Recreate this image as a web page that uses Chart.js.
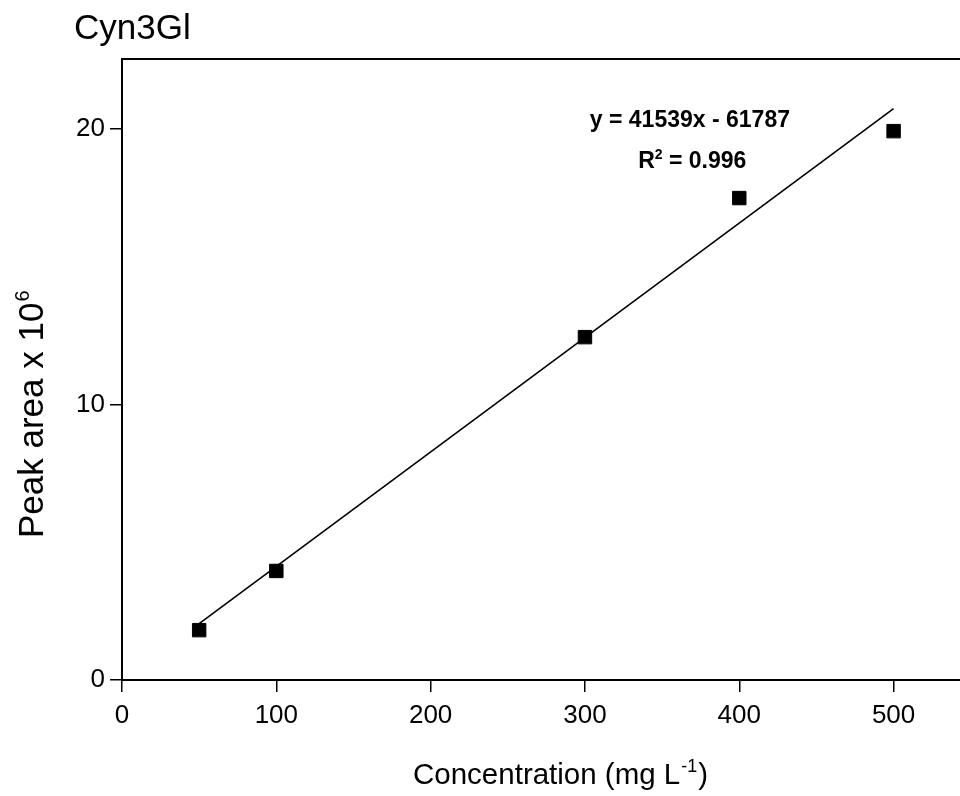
<!DOCTYPE html>
<html>
<head>
<meta charset="utf-8">
<script src="https://cdn.jsdelivr.net/npm/chart.js@4.4.1/dist/chart.umd.min.js"></script>
<style>
  body { margin: 0; background: #fff; }
  #wrap { width: 960px; height: 796px; position: relative; overflow: hidden; }
</style>
</head>
<body>
<div id="wrap"><canvas id="calib" width="972" height="796"></canvas></div>
<script>
// calibration points, peak area in units of 10^6
const concentration = [50, 100, 300, 400, 500];
const peakArea = [1.81, 3.96, 12.45, 17.5, 19.93];
// fitted line end points as drawn
const fitX = [50, 500];
const fitY = [2.05, 20.75];
const xTicks = [0, 100, 200, 300, 400, 500];
const yTicks = [0, 10, 20];

const chartTitle = 'Cyn3Gl';
const equationText = 'y = 41539x - 61787';
const r2Value = '0.996';

// extra texts: title, axis titles with superscripts, equation
const textPlugin = {
    id: 'texts',
    afterDraw(chart) {
        const ctx = chart.ctx;
        const xs = chart.scales.x, ys = chart.scales.y;
        const area = chart.chartArea;
        ctx.save();
        ctx.fillStyle = '#000';
        ctx.strokeStyle = '#000';

        // top frame line
        ctx.lineWidth = 2;
        ctx.beginPath();
        ctx.moveTo(area.left, area.top);
        ctx.lineTo(chart.width, area.top);
        ctx.stroke();

        // title
        ctx.font = '35px Arial, "Liberation Sans"';
        ctx.textAlign = 'left';
        ctx.textBaseline = 'alphabetic';
        ctx.fillText(chartTitle, 74, 39);

        // x axis title
        ctx.font = '29.5px Arial, "Liberation Sans"';
        let x = 413;
        ctx.fillText('Concentration (mg L', x, 784);
        x += ctx.measureText('Concentration (mg L').width;
        ctx.font = '18px Arial, "Liberation Sans"';
        ctx.fillText('-1', x + 1, 772);
        x += ctx.measureText('-1').width + 2;
        ctx.font = '29.5px Arial, "Liberation Sans"';
        ctx.fillText(')', x, 784);

        // y axis title
        ctx.save();
        ctx.translate(43, 538);
        ctx.rotate(-Math.PI / 2);
        ctx.font = '35px Arial, "Liberation Sans"';
        ctx.fillText('Peak area x 10', 0, 0);
        const w = ctx.measureText('Peak area x 10').width;
        ctx.font = '20px Arial, "Liberation Sans"';
        ctx.fillText('6', w + 1, -14);
        ctx.restore();

        // equation and R2
        ctx.font = 'bold 23px Arial, "Liberation Sans"';
        ctx.textAlign = 'center';
        ctx.fillText(equationText, xs.getPixelForValue(368), ys.getPixelForValue(20.07));
        ctx.textAlign = 'left';
        const rest = ' = ' + r2Value;
        const wR = ctx.measureText('R').width;
        const wRest = ctx.measureText(rest).width;
        ctx.font = 'bold 14px Arial, "Liberation Sans"';
        const w2 = ctx.measureText('2').width;
        const total = wR + w2 + wRest;
        let rx = xs.getPixelForValue(369.5) - total / 2;
        const ry = ys.getPixelForValue(18.58);
        ctx.font = 'bold 23px Arial, "Liberation Sans"';
        ctx.fillText('R', rx, ry);
        rx += wR;
        ctx.font = 'bold 14px Arial, "Liberation Sans"';
        ctx.fillText('2', rx, ry - 9);
        rx += w2;
        ctx.font = 'bold 23px Arial, "Liberation Sans"';
        ctx.fillText(rest, rx, ry);
        ctx.restore();
    }
};

const ctx = document.getElementById('calib');
new Chart(ctx, {
    type: 'scatter',
    data: {
        datasets: [
            {
                label: 'fit',
                data: fitX.map((v, i) => ({ x: v, y: fitY[i] })),
                showLine: true,
                borderColor: '#000',
                borderWidth: 1.6,
                pointRadius: 0,
                fill: false
            },
            {
                label: 'Cyn3Gl',
                data: concentration.map((v, i) => ({ x: v, y: peakArea[i] })),
                pointStyle: 'rect',
                pointRadius: 9.5,
                backgroundColor: '#000',
                borderColor: '#000',
                borderWidth: 1
            }
        ]
    },
    options: {
        responsive: false,
        animation: false,
        layout: { padding: { top: 59, left: 0, right: 0, bottom: 0 } },
        plugins: {
            legend: { display: false },
            tooltip: { enabled: false }
        },
        scales: {
            x: {
                type: 'linear',
                min: 0,
                max: 544,
                afterFit(scale) {
                    scale.height = 116;
                },
                afterBuildTicks(scale) { scale.ticks = xTicks.map(v => ({ value: v })); },
                ticks: {
                    color: '#000',
                    padding: 8,
                    font: { family: 'Arial, "Liberation Sans"', size: 26 }
                },
                grid: {
                    drawOnChartArea: false,
                    drawTicks: true,
                    tickLength: 12,
                    color: '#000',
                    lineWidth: 1.5
                },
                border: { display: true, color: '#000', width: 2 }
            },
            y: {
                type: 'linear',
                min: 0,
                max: 22.55,
                afterFit(scale) {
                    scale.width = 122;
                },
                afterBuildTicks(scale) { scale.ticks = yTicks.map(v => ({ value: v })); },
                ticks: {
                    color: '#000',
                    padding: 5,
                    font: { family: 'Arial, "Liberation Sans"', size: 26 }
                },
                grid: {
                    drawOnChartArea: false,
                    drawTicks: true,
                    tickLength: 12,
                    color: '#000',
                    lineWidth: 1.5
                },
                border: { display: true, color: '#000', width: 2 }
            }
        }
    },
    plugins: [textPlugin]
});
</script>
</body>
</html>
